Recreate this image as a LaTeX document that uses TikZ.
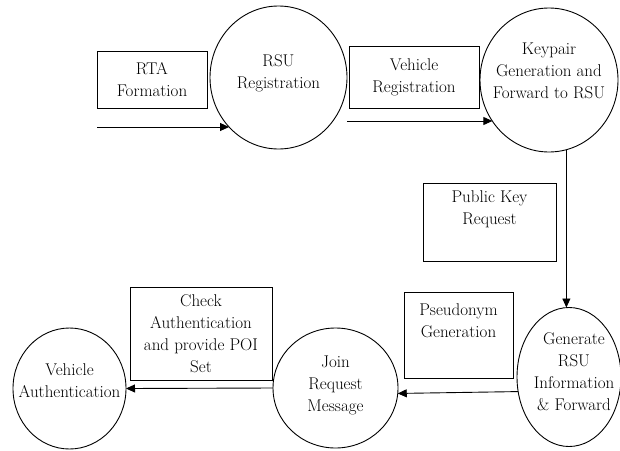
\documentclass[tikz,border=0pt]{standalone}
\usetikzlibrary{shapes.geometric,arrows.meta,calc}
\begin{document}
\begin{tikzpicture}[x=1pt,y=-1pt,
  every node/.style={font=\fontsize{17}{22}\selectfont},
  st/.style={draw, ellipse, line width=0.9pt, inner sep=0pt, outer sep=0pt},
  bx/.style={draw, rectangle, line width=0.9pt, inner sep=0pt, outer sep=0pt, align=center},
  txt/.style={align=center, inner sep=0pt},
  arr/.style={line width=0.9pt, -{Triangle[length=9pt,width=8pt]}}]
\useasboundingbox (0,0) rectangle (620,450);
% state circles
\node[st, minimum width=137pt, minimum height=143pt,
  label={[txt,yshift=4pt]center:{RSU\\Registration}}] (rsu) at (278.5,77.5) {};
\node[st, minimum width=138pt, minimum height=144pt,
  label={[txt,yshift=9pt]center:{Keypair\\Generation and\\Forward to RSU}}] (kp) at (549,80) {};
\node[st, minimum width=104pt, minimum height=139pt,
  label={[txt,xshift=5pt,yshift=5pt]center:{Generate\\RSU\\Information\\\& Forward}}] (gen) at (569,377) {};
\node[st, minimum width=125pt, minimum height=120pt,
  label={[txt,yshift=3pt]center:{Join\\Request\\Message}}] (join) at (335.5,388) {};
\node[st, minimum width=113pt, minimum height=121pt,
  label={[txt,yshift=8pt]center:{Vehicle\\Authentication}}] (va) at (69.5,388.5) {};
% label boxes
\node[bx, minimum width=110pt, minimum height=57pt] (rta) at (152,79.5) {RTA\\Formation};
\node[bx, minimum width=130pt, minimum height=62pt] (vr) at (414,77) {Vehicle\\Registration};
\node[bx, minimum width=133pt, minimum height=78pt] (pk) at (489.5,222) {Public Key\\Request\\\strut};
\node[bx, minimum width=109pt, minimum height=86pt] (pg) at (458.5,335) {Pseudonym\\Generation\\\strut};
\node[bx, minimum width=142pt, minimum height=93pt] (ca) at (201,333.5) {Check\\Authentication\\and provide POI\\Set};
% connectors
\coordinate (s1) at (97,127);
\coordinate (s2) at (347,121);
\draw[arr] (s1) -- (rsu.225 |- s1);
\draw[arr] (s2) -- (kp.216 |- s2);
\draw[arr] (kp.284) -- (kp.284 |- gen.north);
\draw[arr] (gen.196) -- (join.355);
\draw[arr] (join.west) -- (va.east);
\end{tikzpicture}
\end{document}
